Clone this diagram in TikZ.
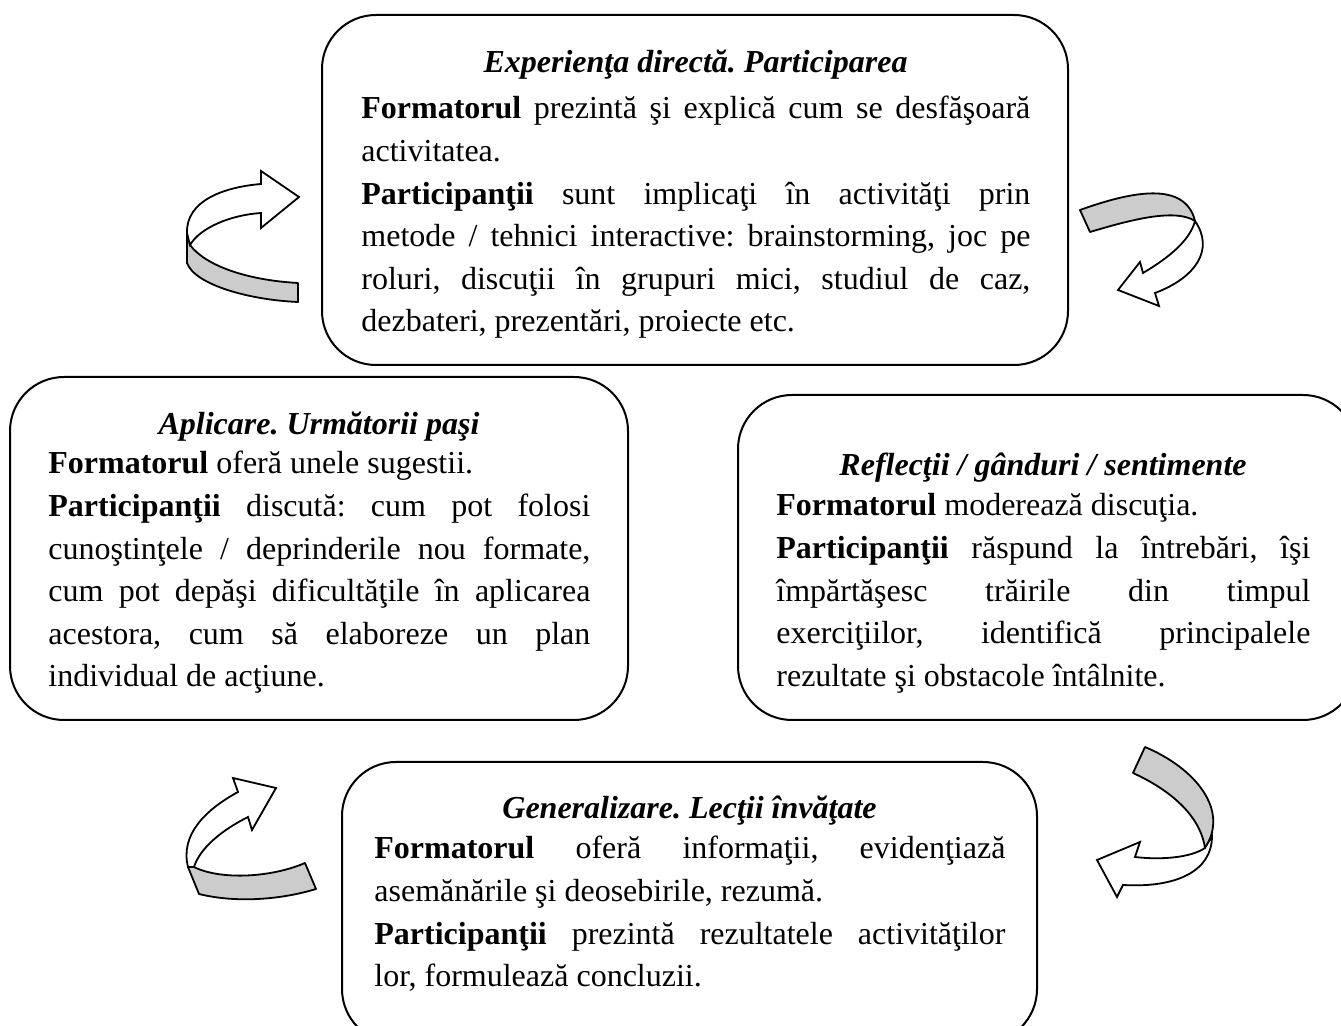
\documentclass[tikz,border=0pt]{standalone}
\usepackage{fontspec}
\setmainfont{Liberation Serif}
\tolerance=10000
\hyphenpenalty=10000
\exhyphenpenalty=10000
\frenchspacing
\begin{document}
\begin{tikzpicture}[x=0.5pt,y=-0.5pt,
  panel/.style={draw, line width=1pt, rounded corners=27pt, inner sep=0pt, outer sep=0pt},
  ttl/.style={font=\fontsize{16pt}{21.3pt}\selectfont\frenchspacing\bfseries\itshape, inner sep=0pt, anchor=base},
  body/.style={font=\fontsize{16pt}{21.3pt}\selectfont\frenchspacing, inner sep=0pt, anchor=base west, align=justify},
  band/.style={draw, fill=black!20, line width=0.9pt, line join=round},
  shaft/.style={draw, fill=white, line width=0.9pt, line join=miter}]
\useasboundingbox (0,0) rectangle (1341,1026);
\clip (0,0) rectangle (1341,1026);
\fill[white] (0,0) rectangle (1341,1026);

% the four stage panels
\node[panel, minimum width=373pt, minimum height=175pt] (exp) at (695,190) {};
\node[panel, minimum width=309pt, minimum height=171.5pt] (apl) at (319,548.5) {};
\node[panel, minimum width=309.5pt, minimum height=162.5pt] (ref) at (1047.5,557.5) {};
\node[panel, minimum width=347.5pt, minimum height=140.5pt] (gen) at (689.5,902.5) {};

% panel texts
\node[ttl] (expT) at (695.5,73) {Experienţa directă. Participarea};
\node[body, text width=334.5pt] (expB) at (361,119) {%
\textbf{Formatorul} prezintă şi explică cum se desfăşoară\linebreak activitatea.\par
\textbf{Participanţii} sunt implicaţi în activităţi prin\linebreak metode / tehnici interactive: brainstorming, joc pe\linebreak roluri, discuţii în grupuri mici, studiul de caz,\linebreak dezbateri, prezentări, proiecte etc.};

\node[ttl] (aplT) at (319,435) {Aplicare. Următorii paşi};
\node[body, text width=271pt] (aplB) at (48,474) {%
\textbf{Formatorul} oferă unele sugestii.\par
\textbf{Participanţii} discută: cum pot folosi\linebreak cunoştinţele / deprinderile nou formate,\linebreak cum pot depăşi dificultăţile în aplicarea\linebreak acestora, cum să elaboreze un plan\linebreak individual de acţiune.};

\node[ttl] (refT) at (1043,476) {Reflecţii / gânduri / sentimente};
\node[body, text width=267pt] (refB) at (776,516) {%
\textbf{Formatorul} moderează discuţia.\par
\textbf{Participanţii} răspund la întrebări, îşi\linebreak împărtăşesc trăirile din timpul\linebreak exerciţiilor, identifică principalele\linebreak rezultate şi obstacole întâlnite.};

\node[ttl] (genT) at (689.5,819) {Generalizare. Lecţii învăţate};
\node[body, text width=315.5pt] (genB) at (374,859) {%
\textbf{Formatorul} oferă informaţii, evidenţiază\linebreak asemănările şi deosebirile, rezumă.\par
\textbf{Participanţii} prezintă rezultatele activităţilor\linebreak lor, formulează concluzii.};

% curved ribbon arrow, top left
\path[band] (187,233) -- (187,263) .. controls (195,285) and (250,300) .. (298,302)
  -- (298,283) .. controls (245,280) and (205,265) .. (190,245) -- cycle;
\path[shaft] (187,233) .. controls (186,200) and (225,187) .. (261,184)
  -- (261,171) -- (299,197) -- (261,228) -- (261,213)
  .. controls (230,215) and (200,228) .. (190,245) -- cycle;

% curved ribbon arrow, top right
\path[band] (1080,210) .. controls (1130,192) and (1185,180) .. (1195,221)
  .. controls (1175,208) and (1130,220) .. (1090,232) -- cycle;
\path[shaft] (1195,221) .. controls (1215,250) and (1195,278) .. (1155,293)
  -- (1159,306) -- (1118,290) -- (1140,262) -- (1143,273)
  .. controls (1170,257) and (1190,240) .. (1195,221) -- cycle;

% curved ribbon arrow, bottom left
\path[band] (188,867) -- (199,894) .. controls (235,903) and (280,900) .. (316,889)
  -- (305,863) .. controls (270,878) and (220,880) .. (194,867) -- cycle;
\path[shaft] (188,867) .. controls (180,835) and (205,810) .. (238,792)
  -- (233,778) -- (276,788) -- (252,830) -- (248,817)
  .. controls (222,830) and (200,848) .. (194,867) -- cycle;

% curved ribbon arrow, bottom right
\path[band] (1145,747) .. controls (1195,768) and (1230,810) .. (1205,848)
  .. controls (1200,815) and (1170,790) .. (1133,773) -- cycle;
\path[shaft] (1212,836) .. controls (1212,872) and (1175,888) .. (1123,885)
  -- (1117,897) -- (1097,860) -- (1140,842) -- (1135,857)
  .. controls (1160,860) and (1190,858) .. (1205,848) -- cycle;
\end{tikzpicture}
\end{document}
